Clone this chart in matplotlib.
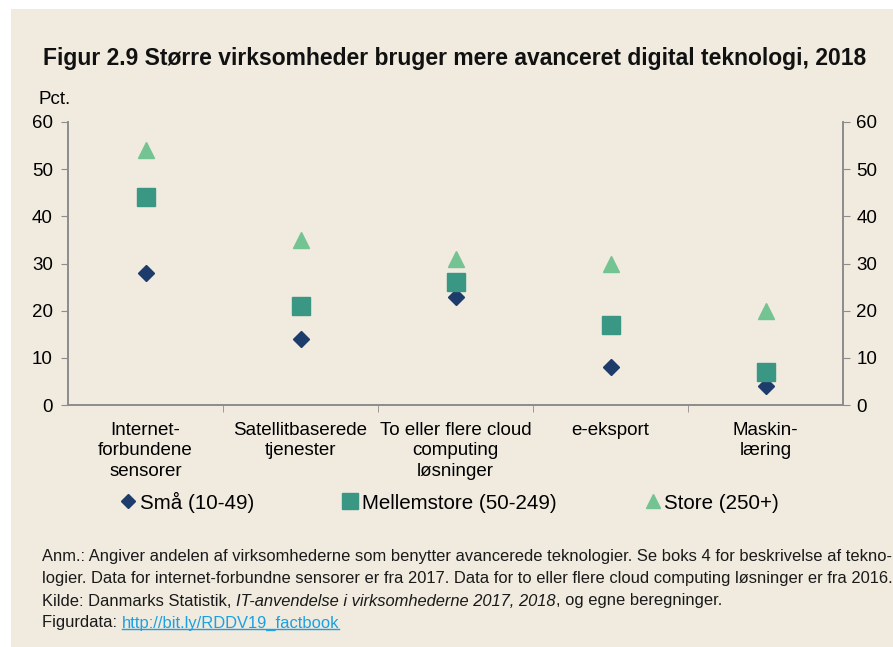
import matplotlib
matplotlib.use("Agg")
import matplotlib.pyplot as plt
from matplotlib.lines import Line2D
from matplotlib.patches import Rectangle

# data
kategorier = ["Internet-\nforbundene\nsensorer", "Satellitbaserede\ntjenester",
              "To eller flere cloud\ncomputing\nløsninger", "e-eksport", "Maskin-\nlæring"]
smaa = [28, 14, 23, 8, 4]
mellem = [44, 21, 26, 17, 7]
store = [54, 35, 31, 30, 20]
serier = ["Små (10-49)", "Mellemstore (50-249)", "Store (250+)"]
yticks = [0, 10, 20, 30, 40, 50, 60]

bg = "#F0EADF"
c_smaa = "#1D3C6C"
c_mellem = "#3A9784"
c_store = "#74C392"
spine_c = "#8C8C8C"

plt.rcParams["font.family"] = ["Liberation Sans", "DejaVu Sans"]

fig = plt.figure(figsize=(8.93, 6.47), dpi=100)
fig.patch.set_facecolor("white")
fig.patches.append(Rectangle((11 / 893, 0), 1, 1 - 9 / 647, transform=fig.transFigure,
                             facecolor=bg, edgecolor="none", zorder=-5))

ax = fig.add_axes([68 / 893, 1 - 405 / 647, (843 - 68) / 893, (405 - 122) / 647])
ax.set_facecolor("none")
x = list(range(len(kategorier)))
ax.plot(x, smaa, ls="none", marker="D", ms=8.5, color=c_smaa, label=serier[0], zorder=3)
ax.plot(x, mellem, ls="none", marker="s", ms=12.3, color=c_mellem, label=serier[1], zorder=3)
ax.plot(x, store, ls="none", marker="^", ms=12, color=c_store, label=serier[2], zorder=3)

ax.set_xlim(-0.5, len(kategorier) - 0.5)
ax.set_ylim(0, 60)
ax.set_yticks(yticks)
ax.set_xticks(x)
ax.set_xticklabels(kategorier, fontsize=13.5, linespacing=1.27)
ax.set_xticks([i + 0.5 for i in x[:-1]], minor=True)
ax.tick_params(axis="x", which="major", length=0, pad=12)
ax.tick_params(axis="x", which="minor", length=5, color=spine_c, direction="out")
ax.tick_params(axis="y", length=5, color=spine_c, labelsize=13.5, pad=6)

ax2 = ax.twinx()
ax2.set_ylim(0, 60)
ax2.set_yticks(yticks)
ax2.tick_params(axis="y", length=5, color=spine_c, labelsize=13.5, pad=4.5)

for a in (ax, ax2):
    a.spines["top"].set_visible(False)
    for s in ("left", "right", "bottom"):
        a.spines[s].set_color(spine_c)
        a.spines[s].set_linewidth(1.2)

fig.text(455 / 893, 1 - 58 / 647, "Figur 2.9 Større virksomheder bruger mere avanceret digital teknologi, 2018",
         ha="center", va="center", fontsize=16.5, fontweight="bold", color="#111111")
fig.text(38 / 893, 1 - 100 / 647, "Pct.", ha="left", va="center", fontsize=13.5)

handles = [Line2D([], [], ls="none", marker="D", ms=7.5, color=c_smaa),
           Line2D([], [], ls="none", marker="s", ms=11, color=c_mellem),
           Line2D([], [], ls="none", marker="^", ms=10, color=c_store)]
fig.legend(handles, serier, loc="center left", bbox_to_anchor=(121 / 893, 1 - 502 / 647),
           ncol=3, frameon=False, fontsize=14.8, handlelength=0.7, handletextpad=0.2,
           columnspacing=4.35, borderpad=0, borderaxespad=0)

# footnote, built from pieces so italics and the link can sit inline
linjer = [
    [("Anm.: Angiver andelen af virksomhederne som benytter avancerede teknologier. Se boks 4 for beskrivelse af tekno-", "normal", "#1a1a1a")],
    [("logier. Data for internet-forbundne sensorer er fra 2017. Data for to eller flere cloud computing løsninger er fra 2016.", "normal", "#1a1a1a")],
    [("Kilde: Danmarks Statistik, ", "normal", "#1a1a1a"),
     ("IT-anvendelse i virksomhederne 2017, 2018", "italic", "#1a1a1a"),
     (", og egne beregninger.", "normal", "#1a1a1a")],
    [("Figurdata: ", "normal", "#1a1a1a"), ("http://bit.ly/RDDV19_factbook", "link", "#1BA1E2")],
]
ys = [556, 579, 601, 623]
fig.canvas.draw()
r = fig.canvas.get_renderer()
for dele, yp in zip(linjer, ys):
    xp = 42 / 893
    for tekst, stil, farve in dele:
        t = fig.text(xp, 1 - yp / 647, tekst, ha="left", va="center", fontsize=11.9,
                     style="italic" if stil == "italic" else "normal", color=farve)
        bb = t.get_window_extent(r).transformed(fig.transFigure.inverted())
        if stil == "link":
            fig.add_artist(Line2D([bb.x0, bb.x1], [bb.y0 + 0.002, bb.y0 + 0.002],
                                  transform=fig.transFigure, color=farve, lw=1))
        xp = bb.x1

fig.savefig("out.png", dpi=100, facecolor=fig.get_facecolor())
